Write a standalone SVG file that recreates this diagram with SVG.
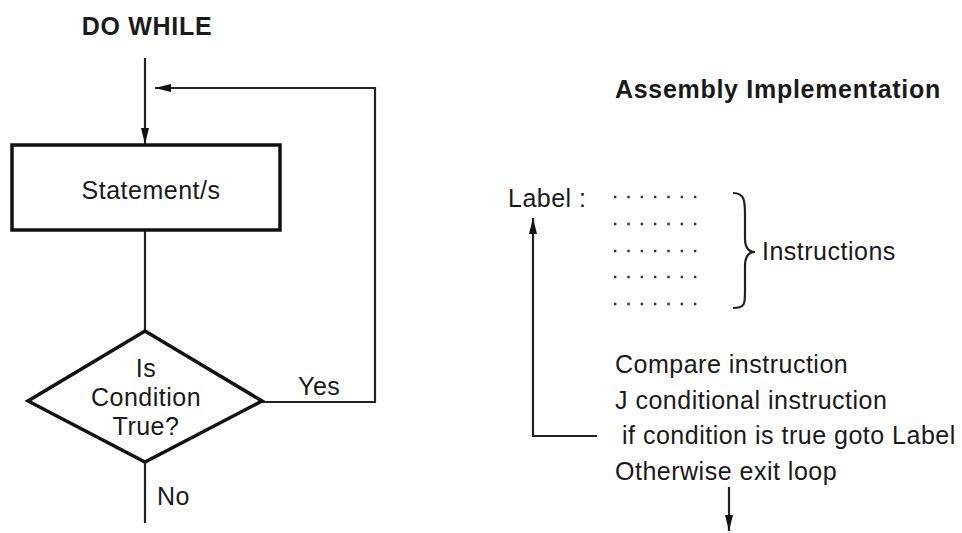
<svg xmlns="http://www.w3.org/2000/svg" width="962" height="533" viewBox="0 0 962 533">
<style>
text { font-family: "Liberation Sans", Arial, sans-serif; fill: #1a1a1a; font-size: 25px; letter-spacing: 0.5px; }
.title { font-weight: bold; font-size: 25px; letter-spacing: 0.7px; }
.mid { text-anchor: middle; }
.shape { fill: #fff; stroke: #111; stroke-width: 3.5; }
.conn { fill: none; stroke: #222; stroke-width: 2.2; }
.dots { stroke: #333; stroke-width: 2.6; stroke-dasharray: 2.4 10.93; }
</style>
<defs>
<marker id="arrow" viewBox="0 0 16 8" refX="16" refY="4" markerWidth="16" markerHeight="8" markerUnits="userSpaceOnUse" orient="auto">
<path d="M0,0 L16,4 L0,8 z" fill="#111"/>
</marker>
</defs>
<rect width="962" height="533" fill="#fff"/>

<g id="title-dowhile"><text class="title mid" x="147" y="35">DO WHILE</text></g>
<g id="title-assembly"><text class="title" x="615" y="98">Assembly Implementation</text></g>

<g id="connectors">
<path class="conn" d="M145,58 L145,144" marker-end="url(#arrow)"/>
<path class="conn" d="M145,230 L145,331"/>
<path class="conn" d="M262,402 L375,402 L375,88 L155,88" marker-end="url(#arrow)"/>
<path class="conn" d="M145,462 L145,523"/>
<path class="conn" d="M597,436 L533,436 L533,218" marker-end="url(#arrow)"/>
<path class="conn" d="M729,487 L729,531" marker-end="url(#arrow)"/>
</g>

<g id="statements">
<rect class="shape" x="12" y="145" width="268" height="85"/>
<text class="mid" x="151" y="199">Statement/s</text>
</g>

<g id="condition">
<polygon class="shape" points="145,331 262,401 145,462 28,401"/>
<text class="mid" x="146" y="377">Is</text>
<text class="mid" x="146" y="406">Condition</text>
<text class="mid" x="146" y="435">True?</text>
</g>

<g id="label-yes"><text x="298" y="395">Yes</text></g>
<g id="label-no"><text x="157" y="505">No</text></g>

<g id="label-line"><text x="508" y="207">Label :</text></g>

<g id="instructions-block">
<line class="dots" x1="614" y1="197" x2="698" y2="197"/>
<line class="dots" x1="614" y1="224" x2="698" y2="224"/>
<line class="dots" x1="614" y1="251" x2="698" y2="251"/>
<line class="dots" x1="614" y1="277" x2="698" y2="277"/>
<line class="dots" x1="614" y1="304" x2="698" y2="304"/>
<path class="conn" d="M733,193 C745,193 745,202 745,215 L745,238 C745,248 749,252 755,252 C749,252 745,256 745,266 L745,292 C745,304 745,308 733,308"/>
<text x="762" y="260">Instructions</text>
</g>

<g id="code-lines">
<text x="615" y="373">Compare instruction</text>
<text x="615" y="409">J conditional instruction</text>
<text x="622" y="444">if condition is true goto Label</text>
<text x="615" y="480">Otherwise exit loop</text>
</g>
</svg>
